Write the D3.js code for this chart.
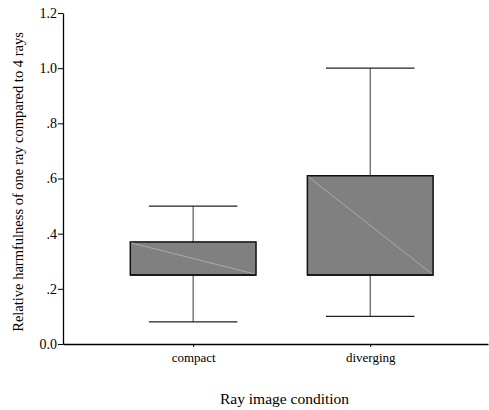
<!DOCTYPE html>
<html>
<head>
<meta charset="utf-8">
<script src="https://cdn.jsdelivr.net/npm/d3@7"></script>
<style>
  body { margin: 0; background: #fff; }
  svg text { font-family: "Liberation Serif", "Times New Roman", serif; fill: #000; }
</style>
</head>
<body>
<div id="chart"></div>
<script>
// data
const categories = ["compact", "diverging"];
const whiskerLow = [0.08, 0.10];
const q1 = [0.25, 0.25];
const median = [0.25, 0.25];
const q3 = [0.37, 0.61];
const whiskerHigh = [0.50, 1.0];
const yTicks = [0, 0.2, 0.4, 0.6, 0.8, 1.0, 1.2];
const yTickLabels = ["0.0", ".2", ".4", ".6", ".8", "1.0", "1.2"];

const width = 489;
const height = 410;
const margin = { top: 13, right: 1, bottom: 66, left: 63 };

const svg = d3
  .select("#chart")
  .append("svg")
  .attr("width", width)
  .attr("height", height);

const x = d3
  .scalePoint()
  .domain(categories)
  .range([margin.left, width - margin.right])
  .padding(0.7)
  .align(0.525);

const y = d3
  .scaleLinear()
  .domain([0, 1.2])
  .range([height - margin.bottom, margin.top]);

const boxW = x.step() * 0.71;
const capW = x.step() * 0.5;

// Y axis
const yAxis = svg
  .append("g")
  .attr("transform", `translate(${margin.left},0)`)
  .call(
    d3.axisLeft(y)
      .tickValues(yTicks)
      .tickFormat((d, i) => yTickLabels[i])
      .tickSize(5)
      .tickSizeOuter(0)
  );
yAxis.select(".domain").attr("stroke", "#000").attr("stroke-width", 1.3);
yAxis.selectAll("line").attr("stroke", "#000");
yAxis.selectAll("text").style("font-size", "14px").attr("x", -6);

// X axis
const xAxis = svg
  .append("g")
  .attr("transform", `translate(0,${y(0)})`)
  .call(d3.axisBottom(x).tickSize(3).tickSizeOuter(0));
xAxis.select(".domain").attr("stroke", "#000").attr("stroke-width", 1.3);
xAxis.selectAll("line").attr("stroke", "#000");
xAxis.selectAll("text").style("font-size", "13px").attr("dy", "0.95em");

// boxes
const g = svg
  .selectAll(".box")
  .data(categories)
  .enter()
  .append("g")
  .attr("class", "box");

// vertical whiskers
g.append("line")
  .attr("x1", (d) => x(d))
  .attr("x2", (d) => x(d))
  .attr("y1", (d, i) => y(whiskerLow[i]))
  .attr("y2", (d, i) => y(q1[i]))
  .attr("stroke", "#5a5a5a")
  .attr("stroke-width", 1.2);
g.append("line")
  .attr("x1", (d) => x(d))
  .attr("x2", (d) => x(d))
  .attr("y1", (d, i) => y(q3[i]))
  .attr("y2", (d, i) => y(whiskerHigh[i]))
  .attr("stroke", "#5a5a5a")
  .attr("stroke-width", 1.2);

// caps
g.append("line")
  .attr("x1", (d) => x(d) - capW / 2)
  .attr("x2", (d) => x(d) + capW / 2)
  .attr("y1", (d, i) => y(whiskerLow[i]))
  .attr("y2", (d, i) => y(whiskerLow[i]))
  .attr("stroke", "#222")
  .attr("stroke-width", 1.2);
g.append("line")
  .attr("x1", (d) => x(d) - capW / 2)
  .attr("x2", (d) => x(d) + capW / 2)
  .attr("y1", (d, i) => y(whiskerHigh[i]))
  .attr("y2", (d, i) => y(whiskerHigh[i]))
  .attr("stroke", "#222")
  .attr("stroke-width", 1.2);

// box
g.append("rect")
  .attr("x", (d) => x(d) - boxW / 2)
  .attr("y", (d, i) => y(q3[i]))
  .attr("width", boxW)
  .attr("height", (d, i) => y(q1[i]) - y(q3[i]))
  .attr("fill", "#808080")
  .attr("stroke", "#111")
  .attr("stroke-width", 1.5);

// light diagonal
g.append("line")
  .attr("x1", (d) => x(d) - boxW / 2 + 1)
  .attr("x2", (d) => x(d) + boxW / 2 - 1)
  .attr("y1", (d, i) => y(q3[i]) + 1)
  .attr("y2", (d, i) => y(q1[i]) - 1)
  .attr("stroke", "#b4b4b4")
  .attr("stroke-width", 0.8);

// median (sits on the lower quartile)
g.append("line")
  .attr("x1", (d) => x(d) - boxW / 2)
  .attr("x2", (d) => x(d) + boxW / 2)
  .attr("y1", (d, i) => y(median[i]))
  .attr("y2", (d, i) => y(median[i]))
  .attr("stroke", "#111")
  .attr("stroke-width", 1.5);

// axis titles
svg
  .append("text")
  .attr("x", (margin.left + width - margin.right) / 2 + 9)
  .attr("y", 404)
  .attr("text-anchor", "middle")
  .style("font-size", "15.5px")
  .text("Ray image condition");

svg
  .append("text")
  .attr("transform", `translate(23,${182}) rotate(-90)`)
  .attr("text-anchor", "middle")
  .style("font-size", "14.5px")
  .text("Relative harmfulness of one ray compared to 4 rays");
</script>
</body>
</html>
